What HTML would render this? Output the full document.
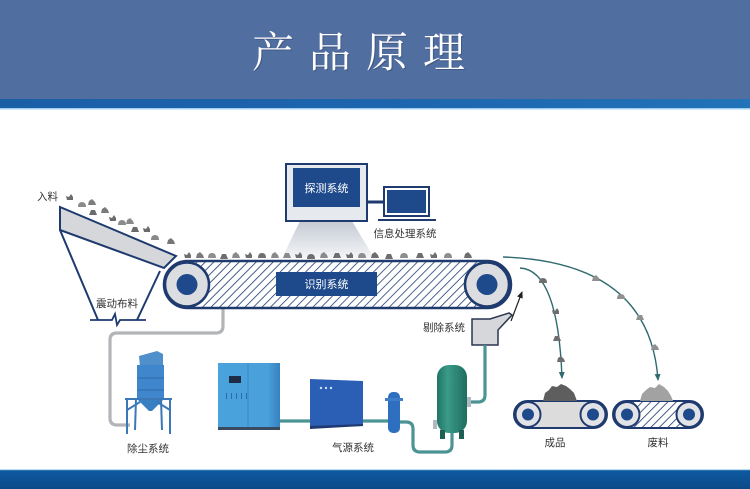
<!DOCTYPE html>
<html><head><meta charset="utf-8"><style>
html,body{margin:0;padding:0;background:#fff;}
svg{display:block;}
.lb{font-family:"Liberation Sans","Noto Sans CJK SC",sans-serif;font-size:10.5px;fill:#333;}
.wt{font-family:"Liberation Sans","Noto Sans CJK SC",sans-serif;font-size:11px;fill:#fff;}
</style></head><body>
<svg width="750" height="489" viewBox="0 0 750 489" xmlns="http://www.w3.org/2000/svg">
<defs>
<linearGradient id="strip" x1="0" x2="1" y1="0" y2="0"><stop offset="0" stop-color="#1a5ea6"/><stop offset="0.5" stop-color="#1d65ae"/><stop offset="1" stop-color="#2273b8"/></linearGradient>
<linearGradient id="bot" x1="0" x2="0" y1="0" y2="1"><stop offset="0" stop-color="#0e5aa0"/><stop offset="1" stop-color="#0b4a8a"/></linearGradient>
<linearGradient id="beam" x1="0" x2="0" y1="0" y2="1"><stop offset="0" stop-color="#c4c9d2"/><stop offset="1" stop-color="#f4f5f7"/></linearGradient>
<linearGradient id="tank" x1="0" x2="1" y1="0" y2="0"><stop offset="0" stop-color="#1f7565"/><stop offset="0.35" stop-color="#3a9a88"/><stop offset="1" stop-color="#1e6e60"/></linearGradient>
<linearGradient id="comp" x1="0" x2="1"><stop offset="0" stop-color="#4aa3dd"/><stop offset="0.8" stop-color="#4aa0da"/><stop offset="1" stop-color="#3682c0"/></linearGradient>
<pattern id="hatch" width="6" height="6" patternUnits="userSpaceOnUse" patternTransform="rotate(45)">
<rect width="6" height="6" fill="#fff"/><line x1="0" y1="0" x2="0" y2="6" stroke="#1e3a6e" stroke-width="1.6"/></pattern>
<path id="s1" d="M-4,2 L-3,-2 L0,-4 L3,-1 L4,2 Z"/>
<path id="s2" d="M-4,2 L-2,-3 L2,-3 L4,2 Z"/>
<path id="s3" d="M-3,2 L-4,-2 L-1,-1 L1,-4 L3,-1 L3,2 Z"/>
<path id="s4" d="M-4,2 Q-4,-3 0,-3 Q4,-3 4,2 Z"/>
<marker id="ah" markerWidth="8" markerHeight="8" refX="6" refY="4" orient="auto" markerUnits="userSpaceOnUse"><path d="M0,1 L7,4 L0,7 Z" fill="#2f6a70"/></marker>
<marker id="ahk" markerWidth="8" markerHeight="8" refX="6" refY="4" orient="auto" markerUnits="userSpaceOnUse"><path d="M0,1 L7,4 L0,7 Z" fill="#222"/></marker>
</defs>

<!-- header -->
<rect x="0" y="0" width="750" height="99" fill="#516ea0"/>
<rect x="0" y="99" width="750" height="10" fill="url(#strip)"/>
<rect x="0" y="108" width="750" height="1.5" fill="#9fcff0"/>
<text x="367" y="68" text-anchor="middle" font-family="'Noto Serif CJK SC','Noto Serif CJK SC',serif" font-size="42" fill="#3a4f78" letter-spacing="15" opacity="0.7">产品原理</text>
<text x="366" y="67" text-anchor="middle" font-family="'Noto Serif CJK SC',serif" font-size="42" fill="#fff" letter-spacing="15">产品原理</text>

<!-- bottom strip -->
<rect x="0" y="470" width="750" height="19" fill="url(#bot)"/>
<rect x="0" y="469" width="750" height="1.2" fill="#b8dcf0"/>

<!-- chute -->
<line x1="60" y1="230" x2="98" y2="320" stroke="#1e3a6e" stroke-width="2"/>
<line x1="160" y1="271" x2="137" y2="320" stroke="#1e3a6e" stroke-width="2"/>
<path d="M90,320 H112 L115,314 L117,325 L120,320 H146" fill="none" stroke="#1e3a6e" stroke-width="1.8"/>
<polygon points="60,207 176,256 164,268 60,230" fill="#d5d7db" stroke="#1e3a6e" stroke-width="2"/>
<text class="lb" x="37" y="200">入料</text>
<text class="lb" x="96" y="307">震动布料</text>

<!-- chute stones -->
<g fill="#6b6b6b">
<use href="#s3" x="70" y="198"/><use href="#s4" x="82" y="205" fill="#8a8a8a"/><use href="#s1" x="92" y="203" fill="#7d7d7d"/>
<use href="#s2" x="93" y="213"/><use href="#s1" x="105" y="211" fill="#7a7a7a"/><use href="#s3" x="113" y="219"/>
<use href="#s4" x="122" y="223" fill="#8c8c8c"/><use href="#s1" x="130" y="222" fill="#8a8a8a"/><use href="#s2" x="135" y="230"/>
<use href="#s3" x="147" y="230"/><use href="#s4" x="155" y="238" fill="#888"/><use href="#s1" x="171" y="242" fill="#777"/>
</g>

<!-- dust pipe -->
<path d="M223,308 V326 Q223,333 216,333 H117 Q110,333 110,340 V418 Q110,425 117,425 H130" fill="none" stroke="#b2b4b8" stroke-width="3.2"/>

<!-- beam -->
<polygon points="300,221 352,221 374,258 282,258" fill="url(#beam)"/>

<!-- main belt -->
<rect x="164" y="261" width="347" height="47" rx="23.5" fill="url(#hatch)" stroke="#1e3a6e" stroke-width="2.5"/>
<rect x="276" y="272" width="101" height="24" fill="#1e4a8c"/>
<text class="wt" x="326.5" y="288" text-anchor="middle">识别系统</text>
<circle cx="187" cy="284.5" r="22" fill="#dcdde1" stroke="#1e3a6e" stroke-width="2.5"/>
<circle cx="187" cy="284.5" r="10.5" fill="#1e4a8c"/>
<circle cx="487" cy="284.5" r="22" fill="#dcdde1" stroke="#1e3a6e" stroke-width="2.5"/>
<circle cx="487" cy="284.5" r="10.5" fill="#1e4a8c"/>

<!-- belt stones -->
<g fill="#6e6e6e">
<use href="#s3" x="188" y="256"/><use href="#s1" x="200" y="256" fill="#7a7a7a"/><use href="#s4" x="212" y="256" fill="#8e8e8e"/>
<use href="#s2" x="224" y="257"/><use href="#s1" x="236" y="256" fill="#8a8a8a"/><use href="#s3" x="249" y="256"/>
<use href="#s4" x="262" y="256" fill="#707070"/><use href="#s1" x="275" y="256" fill="#8a8a8a"/><use href="#s2" x="287" y="256" fill="#8a8a8a"/>
<use href="#s3" x="299" y="256"/><use href="#s4" x="311" y="257"/><use href="#s1" x="324" y="256" fill="#8a8a8a"/>
<use href="#s2" x="337" y="256"/><use href="#s3" x="350" y="256"/><use href="#s4" x="362" y="256" fill="#8e8e8e"/>
<use href="#s1" x="375" y="256"/><use href="#s2" x="389" y="257"/><use href="#s4" x="404" y="256" fill="#8e8e8e"/>
<use href="#s2" x="420" y="256"/><use href="#s3" x="434" y="256"/><use href="#s4" x="448" y="256" fill="#8e8e8e"/><use href="#s1" x="468" y="256"/>
</g>

<!-- monitor -->
<rect x="286" y="164" width="81" height="57" fill="#e6e9ee" stroke="#1e3a6e" stroke-width="2"/>
<rect x="293" y="168" width="67" height="39" fill="#1e4a8c"/>
<text class="wt" x="326.5" y="192" text-anchor="middle">探测系统</text>
<line x1="367" y1="202" x2="384" y2="202" stroke="#1e3a6e" stroke-width="3"/>
<rect x="384" y="187" width="45" height="29" fill="#fff" stroke="#1e3a6e" stroke-width="2"/>
<rect x="387" y="190" width="39" height="23" fill="#1e4a8c"/>
<line x1="378" y1="220" x2="436" y2="220" stroke="#1e3a6e" stroke-width="2"/>
<text class="lb" x="405" y="237" text-anchor="middle">信息处理系统</text>

<!-- trajectories -->
<path d="M503,257 Q650,262 658,380" fill="none" stroke="#2f6a70" stroke-width="1.4" marker-end="url(#ah)"/>
<path d="M520,268 Q558,270 562,378" fill="none" stroke="#2f6a70" stroke-width="1.4" marker-end="url(#ah)"/>
<g fill="#6e6e6e">
<use href="#s4" x="543" y="281"/><use href="#s3" x="556" y="312"/><use href="#s2" x="557" y="339"/><use href="#s1" x="561" y="360"/>
</g>
<g fill="#909090">
<use href="#s1" x="596" y="279"/><use href="#s4" x="621" y="297"/><use href="#s2" x="640" y="318"/><use href="#s1" x="655" y="348"/>
</g>

<!-- removal -->
<line x1="511" y1="321" x2="522" y2="292" stroke="#222" stroke-width="1.2" marker-end="url(#ahk)"/>
<polygon points="472,319 490,319 509,313 512,315 498,330 498,345 472,345" fill="#d6d7da" stroke="#2a3550" stroke-width="1.5"/>
<text class="lb" x="444" y="331" text-anchor="middle">剔除系统</text>

<!-- teal pipes -->
<g fill="none" stroke="#4b9494" stroke-width="3.2">
<line x1="280" y1="421" x2="311" y2="421"/>
<line x1="362" y1="421" x2="388" y2="421"/>
<path d="M398,422 H406 Q413,422 413,429 V445 Q413,452 420,452 H445 Q452,452 452,445 V433"/>
<path d="M467,402 H478 Q485,402 485,395 V345"/>
</g>

<!-- dust collector -->
<g>
<polygon points="140,367 139,356 157,351 163,354 163,367" fill="#4f8fcc"/>
<rect x="137" y="365" width="27" height="34" fill="#3f86cc"/>
<line x1="137" y1="378" x2="164" y2="378" stroke="#2e6aa8" stroke-width="1"/>
<line x1="137" y1="390" x2="164" y2="390" stroke="#2e6aa8" stroke-width="1"/>
<polygon points="137,399 164,399 152,411 149,411" fill="#3a7fc2"/>
<g stroke="#3a78b8" stroke-width="2" fill="none">
<line x1="125" y1="399" x2="172" y2="399"/>
<line x1="127" y1="399" x2="127" y2="434"/>
<line x1="170" y1="399" x2="170" y2="434"/>
<line x1="136" y1="399" x2="135" y2="430"/>
<line x1="161" y1="399" x2="162" y2="430"/>
<line x1="127" y1="410" x2="140" y2="402"/>
<line x1="170" y1="410" x2="157" y2="402"/>
</g>
</g>
<text class="lb" x="148" y="452" text-anchor="middle">除尘系统</text>

<!-- compressor -->
<rect x="218" y="363" width="62" height="67" fill="url(#comp)"/>
<line x1="248" y1="363" x2="248" y2="428" stroke="#3a86c0" stroke-width="1"/>
<rect x="229" y="376" width="12" height="7" fill="#1d2d45"/>
<rect x="218" y="427" width="62" height="3" fill="#3a4a60"/>
<g fill="#2a6ea8"><rect x="226" y="393" width="1" height="6"/><rect x="231" y="393" width="1" height="6"/><rect x="236" y="393" width="1" height="6"/><rect x="241" y="393" width="1" height="6"/><rect x="246" y="393" width="1" height="6"/></g>

<!-- dryer -->
<polygon points="310,379 363,381 363,426 310,428" fill="#2b5fb5"/>
<g fill="#cfe0f5"><circle cx="321" cy="388" r="1.2"/><circle cx="326" cy="388" r="1.2"/><circle cx="331" cy="388" r="1.2"/></g>
<polygon points="310,426 363,424 363,426 310,429" fill="#1e3a70"/>

<!-- filter -->
<rect x="388" y="392" width="12" height="41" rx="5" fill="#2f6fc0"/>
<rect x="385" y="398" width="18" height="3" fill="#3e7dc8"/>

<text class="lb" x="353" y="451" text-anchor="middle">气源系统</text>

<!-- tank -->
<rect x="437" y="365" width="30" height="68" rx="12" fill="url(#tank)"/>
<rect x="440" y="430" width="5" height="9" fill="#1f5e52"/>
<rect x="459" y="430" width="5" height="9" fill="#1f5e52"/>
<rect x="433" y="420" width="4" height="9" fill="#b0b8c0"/>
<rect x="467" y="397" width="4" height="10" fill="#b0b8c0"/>

<!-- small conveyors -->
<rect x="514" y="401" width="93" height="27" rx="13.5" fill="#dcdcdc" stroke="#1e3a6e" stroke-width="2"/>
<circle cx="528" cy="414.5" r="12.5" fill="#e2e3e6" stroke="#1e3a6e" stroke-width="2"/>
<circle cx="528" cy="414.5" r="6" fill="#1e4a8c"/>
<circle cx="593" cy="414.5" r="12.5" fill="#e2e3e6" stroke="#1e3a6e" stroke-width="2"/>
<circle cx="593" cy="414.5" r="6" fill="#1e4a8c"/>

<rect x="613" y="401" width="90" height="27" rx="13.5" fill="url(#hatch)" stroke="#1e3a6e" stroke-width="2"/>
<circle cx="627" cy="414.5" r="12.5" fill="#e2e3e6" stroke="#1e3a6e" stroke-width="2"/>
<circle cx="627" cy="414.5" r="6" fill="#1e4a8c"/>
<circle cx="689" cy="414.5" r="12.5" fill="#e2e3e6" stroke="#1e3a6e" stroke-width="2"/>
<circle cx="689" cy="414.5" r="6" fill="#1e4a8c"/>

<!-- piles -->
<path d="M543,401 L545,393 L549,390 L552,386 L557,387 L561,384 L566,386 L570,389 L574,393 L577,401 Z" fill="#5e5e5e"/>
<path d="M640,401 L642,394 L646,390 L650,387 L655,388 L659,384 L664,387 L668,391 L671,396 L673,401 Z" fill="#a2a2a2"/>

<text class="lb" x="555" y="446" text-anchor="middle">成品</text>
<text class="lb" x="658" y="446" text-anchor="middle">废料</text>
</svg>
</body></html>
